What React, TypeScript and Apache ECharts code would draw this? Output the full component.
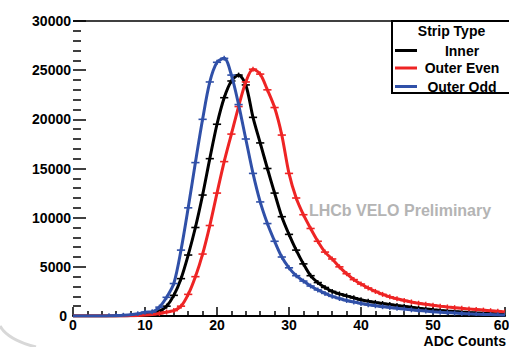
import React, { useEffect, useRef } from "react";
import * as echarts from "echarts";

const adc = [0,1,2,3,4,5,6,7,8,9,10,11,12,13,14,15,16,17,18,19,20,21,22,23,24,25,26,27,28,29,30,31,32,33,34,35,36,37,38,39,40,41,42,43,44,45,46,47,48,49,50,51,52,53,54,55,56,57,58,59,60];

const inner = [0,0,0,0,0,0,10,30,60,110,200,350,520,1000,2100,3800,6200,9000,12300,16000,19500,22200,23900,24500,23500,20200,17600,15000,12500,10100,8300,6700,5300,4100,3400,2900,2500,2250,2050,1850,1650,1500,1380,1270,1170,1070,980,900,800,720,640,570,510,455,405,360,320,285,255,225,200];

const outerEven = [0,0,0,0,0,0,0,0,20,50,90,150,250,400,550,1000,2200,4000,6300,9200,12500,15700,18500,21300,23800,25100,24600,23000,21200,18400,14500,12000,10300,8900,7600,6500,5800,5000,4300,3700,3250,2850,2500,2200,1950,1750,1580,1430,1300,1190,1090,1000,920,850,780,720,660,600,540,480,420];

const outerOdd = [0,0,0,0,0,20,40,70,120,220,380,420,900,1900,3300,6700,11000,15600,20000,23800,25800,26200,24500,21500,18000,14500,11600,9400,7600,6000,4900,4100,3550,3050,2650,2300,2000,1780,1580,1420,1280,1150,1040,950,860,780,700,630,560,500,440,390,340,300,260,220,190,160,140,120,100];

const xTicks = [0, 10, 20, 30, 40, 50, 60];
const yTicks = [0, 5000, 10000, 15000, 20000, 25000, 30000];

const seriesNames = ["Inner", "Outer Even", "Outer Odd"];
const seriesColors = ["#000000", "#ee2424", "#3050a8"];
const seriesData = [inner, outerEven, outerOdd];

const FONT = "'Liberation Sans', Arial, Helvetica, sans-serif";

export default function App() {
  const ref = useRef<HTMLDivElement>(null);
  useEffect(() => {
    if (!ref.current) return;
    const chart = echarts.init(ref.current, null, { renderer: "svg" });
    const series: any[] = [];
    seriesData.forEach((vals, i) => {
      const pts = adc.map((x, j) => [x, vals[j]]);
      const color = seriesColors[i];
      series.push({
        type: "line",
        name: seriesNames[i],
        data: pts,
        smooth: 0.3,
        showSymbol: false,
        lineStyle: { color, width: 3 },
        itemStyle: { color },
        z: 2 + i,
      });
      series.push({
        type: "custom",
        name: seriesNames[i] + " data",
        data: pts,
        clip: true,
        z: 2 + i,
        renderItem: (params: any, api: any) => {
          const x = api.value(0);
          const y = api.value(1);
          if (y <= 0) return null;
          const l = api.coord([x - 0.5, y]);
          const r = api.coord([x + 0.5, y]);
          const c = api.coord([x, y]);
          return {
            type: "group",
            children: [
              { type: "line", shape: { x1: l[0] - 0.5, y1: l[1], x2: r[0] + 0.5, y2: r[1] }, style: { stroke: color, lineWidth: 1.6 } },
              { type: "line", shape: { x1: c[0], y1: c[1] - 2.5, x2: c[0], y2: c[1] + 2.5 }, style: { stroke: color, lineWidth: 1.4 } },
            ],
          };
        },
      });
    });

    const legendRows = [50.5, 68, 86.5];
    const legendGraphics: any[] = [
      { type: "rect", shape: { x: 392, y: 21, width: 140, height: 72 }, style: { fill: "#ffffff", stroke: "#000000", lineWidth: 2 }, z: 100 },
      { type: "text", x: 451.5, y: 31, style: { text: "Strip Type", font: `bold 14px ${FONT}`, fill: "#000", align: "center", verticalAlign: "middle" }, z: 101 },
    ];
    seriesNames.forEach((n, i) => {
      legendGraphics.push({ type: "line", shape: { x1: 395, y1: legendRows[i], x2: 417, y2: legendRows[i] }, style: { stroke: seriesColors[i], lineWidth: 3 }, z: 101 });
      legendGraphics.push({ type: "text", x: 462, y: legendRows[i], style: { text: n, font: `bold 14px ${FONT}`, fill: "#000", align: "center", verticalAlign: "middle" }, z: 101 });
    });

    const labelFont = { fontFamily: FONT, fontWeight: "bold", fontSize: 14, color: "#000", lineHeight: 13 };

    chart.setOption({
      animation: false,
      backgroundColor: "#ffffff",
      grid: { left: 73, right: 4, top: 21, bottom: 31, containLabel: false, outerBoundsMode: "none" },
      xAxis: {
        type: "value",
        min: 0,
        max: 60,
        interval: 10,
        axisLine: { show: true, onZero: false, lineStyle: { color: "#000", width: 2 } },
        axisTick: { show: true, inside: true, length: 9, lineStyle: { color: "#000", width: 1.5 } },
        minorTick: { show: true, splitNumber: 5, length: 5, lineStyle: { color: "#000", width: 1.5 } },
        splitLine: { show: false },
        axisLabel: {
          margin: 2,
          ...labelFont,
          formatter: (v: number) => (v === 60 ? "{e|60}" : xTicks.includes(v) ? String(v) : ""),
          rich: { e: { ...labelFont, padding: [0, 7, 0, 0] } },
        },
      },
      yAxis: {
        type: "value",
        min: 0,
        max: 30000,
        interval: 5000,
        axisLine: { show: false },
        axisTick: { show: true, inside: true, length: 13, lineStyle: { color: "#000", width: 1.5 } },
        minorTick: { show: true, splitNumber: 5, length: 8, lineStyle: { color: "#000", width: 1.5 } },
        splitLine: { show: false },
        axisLabel: {
          margin: 2,
          ...labelFont,
          formatter: (v: number) => (v === 0 ? "{z|0}" : yTicks.includes(v) ? String(v) : ""),
          rich: { z: { ...labelFont, padding: [0, 4, 0, 0] } },
        },
      },
      series,
      graphic: [
        { type: "line", shape: { x1: 73, y1: 21, x2: 509, y2: 21 }, style: { stroke: "#000", lineWidth: 1.5 }, z: 50 },
        { type: "text", x: 506, y: 340.5, style: { text: "ADC Counts", font: `bold 14px ${FONT}`, lineHeight: 12, fill: "#000", align: "right", verticalAlign: "middle" } },
        { type: "text", x: 400, y: 210, style: { text: "LHCb VELO Preliminary", font: `bold 16px ${FONT}`, fill: "#b4b4b4", align: "center", verticalAlign: "middle" }, z: 1 },
        { type: "bezierCurve", shape: { x1: 0, y1: 326, cpx1: 8, cpy1: 340, x2: 36, y2: 347 }, style: { stroke: "#d8d8d8", lineWidth: 3, fill: null }, z: 0 },
        ...legendGraphics,
      ],
    });
    return () => chart.dispose();
  }, []);
  return <div ref={ref} style={{ width: 509, height: 347, position: "absolute", left: 0, top: 0 }} />;
}
